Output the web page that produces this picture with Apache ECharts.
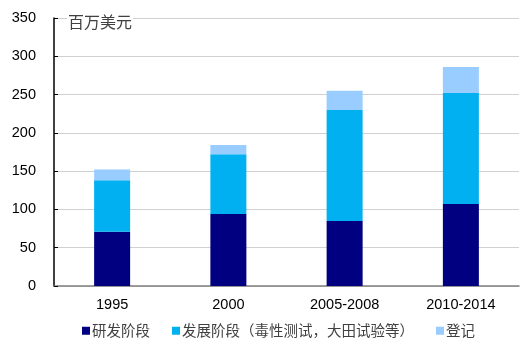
<!DOCTYPE html>
<html><head><meta charset="utf-8">
<script src="https://cdn.jsdelivr.net/npm/echarts@6/dist/echarts.min.js"></script>
<style>html,body{margin:0;padding:0;background:#fff}#c{width:521px;height:353px}</style>
</head><body><div id="c"></div>
<script>
const categories = ['1995', '2000', '2005-2008', '2010-2014'];
const research = [71, 94, 85, 107];
const development = [67, 78, 145, 145];
const registration = [14, 12, 25, 34];
const seriesNames = ['研发阶段', '发展阶段（毒性测试，大田试验等）', '登记'];
const colors = ['#000080', '#00B0F0', '#99CCFF'];

const chart = echarts.init(document.getElementById('c'));
const mk = (name, data, color) => ({
  name, type: 'bar', stack: 's', data, barWidth: 36,
  itemStyle: { color }, emphasis: { disabled: true }
});
chart.setOption({
  animation: false,
  grid: { left: 54, right: 2, top: 18, bottom: 67 },
  xAxis: {
    type: 'category', data: categories,
    axisLine: { lineStyle: { color: '#808080', width: 1.5 } },
    axisTick: { inside: true, length: 5, lineStyle: { color: '#000' } },
    axisLabel: { color: '#000', fontSize: 14.5, fontFamily: 'Liberation Sans', margin: 11 }
  },
  yAxis: {
    type: 'value', min: 0, max: 350, interval: 50,
    axisLine: { show: true, lineStyle: { color: '#000', width: 1.5 } },
    axisTick: { show: true, inside: true, length: 4, lineStyle: { color: '#000' } },
    axisLabel: { color: '#000', fontSize: 14.5, fontFamily: 'Liberation Sans', margin: 18 },
    splitLine: { lineStyle: { color: '#D0D0D0' } }
  },
  legend: {
    bottom: 10, left: 77, itemGap: 22,
    icon: 'rect', itemWidth: 8, itemHeight: 8,
    textStyle: { color: '#404040', fontSize: 14.5, fontFamily: 'Noto Sans CJK SC', padding: [0, 0, 0, -3] },
    data: seriesNames
  },
  graphic: [{
    type: 'text', left: 67, top: 14, z: 100,
    style: { text: '百万美元', fill: '#404040', fontSize: 16, fontFamily: 'Noto Sans CJK SC',
      backgroundColor: '#fff', padding: [0, 1] }
  }],
  series: [
    mk(seriesNames[0], research, colors[0]),
    mk(seriesNames[1], development, colors[1]),
    mk(seriesNames[2], registration, colors[2])
  ]
});
</script></body></html>
